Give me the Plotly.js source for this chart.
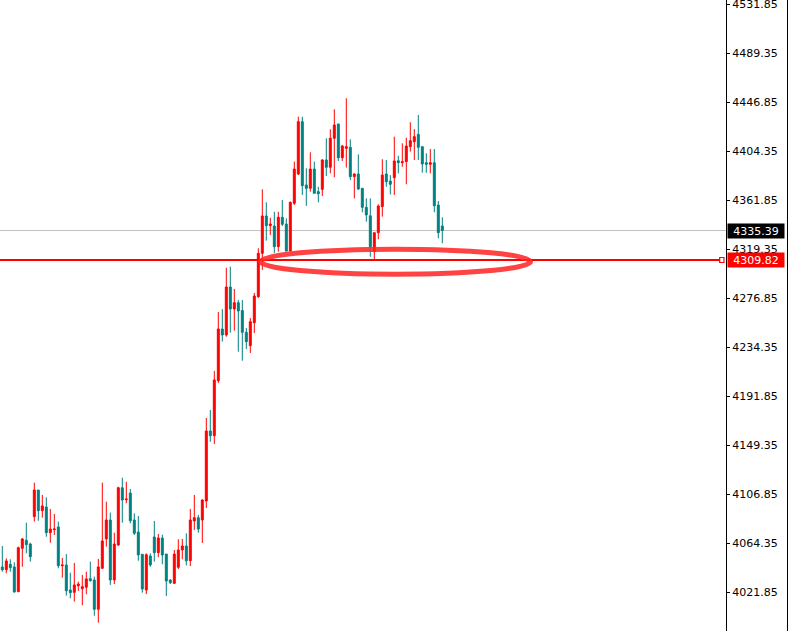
<!DOCTYPE html>
<html>
<head>
<meta charset="utf-8">
<script src="https://cdn.plot.ly/plotly-3.0.1.min.js"></script>
<style>html,body{margin:0;padding:0;background:#fff;}#chart{width:790px;height:631px;}</style>
</head>
<body>
<div id="chart"></div>
<script>
// Candle OHLC values (index = bar number)
const openP = [
4043.6,4041.2,4045.9,4043.6,4022.1,4059.8,4066.7,4063.5,4087.2,4110.3,
4092.4,4095.6,4073.3,4075.9,4078.3,4044.7,4045.3,4023.6,4021.6,4027.3,
4024.7,4026.0,4033.4,4032.3,4006.9,4042.4,4067.9,4084.3,4032.3,4062.6,
4112.3,4101.9,4107.7,4084.3,4073.9,4054.6,4023.6,4053.1,4069.6,4056.0,
4068.7,4054.8,4032.3,4029.4,4043.3,4058.3,4061.8,4049.0,4083.5,4086.3,
4084.3,4100.8,4161.5,4157.4,4205.1,4250.0,4244.8,4286.4,4267.3,4272.8,
4266.0,4247.1,4235.5,4255.4,4278.0,4315.6,4348.0,4339.6,4339.3,4321.4,
4346.9,4341.0,4317.6,4359.0,4384.4,4429.8,4374.9,4372.0,4388.7,4369.1,
4371.1,4396.6,4390.2,4415.4,4427.8,4398.5,4406.7,4407.6,4382.1,4384.4,
4372.0,4355.5,4348.2,4317.0,4333.5,4356.1,4384.4,4378.3,4381.2,4395.9,
4394.2,4395.1,4408.1,4412.4,4418.8,4408.1,4394.2,4392.8,4394.2,4357.5,
4339.3];
const highP = [
4061.8,4051.1,4050.2,4047.6,4061.2,4068.7,4082.0,4064.6,4116.7,4110.3,
4106.0,4104.0,4093.9,4089.5,4082.9,4051.4,4054.8,4038.6,4047.0,4030.8,
4036.6,4039.5,4048.2,4035.2,4050.5,4116.7,4100.2,4090.7,4073.3,4113.2,
4121.0,4117.5,4111.2,4090.1,4087.8,4054.6,4055.4,4055.4,4083.5,4072.2,
4071.6,4054.8,4032.9,4058.3,4067.6,4067.9,4072.8,4093.9,4106.0,4088.7,
4102.3,4172.8,4179.7,4213.6,4264.7,4267.3,4303.1,4304.0,4284.7,4275.1,
4275.1,4250.9,4259.5,4281.2,4320.0,4371.1,4359.9,4346.5,4351.7,4351.7,
4361.9,4346.0,4360.4,4395.1,4434.1,4434.1,4389.4,4403.2,4395.1,4373.4,
4397.2,4415.4,4423.2,4440.5,4427.8,4409.6,4450.1,4414.5,4385.0,4401.5,
4372.0,4363.3,4363.3,4333.5,4358.1,4397.2,4396.6,4383.5,4416.8,4400.3,
4411.0,4415.9,4429.3,4423.4,4435.6,4408.1,4402.4,4406.1,4406.1,4361.0,
4346.9];
const lowP = [
4039.5,4038.1,4039.5,4021.3,4022.1,4043.8,4055.4,4048.2,4082.9,4083.7,
4086.3,4069.8,4064.6,4071.3,4042.4,4034.3,4018.7,4016.4,4013.5,4022.8,
4010.4,4019.9,4030.8,4001.3,3995.3,4042.4,4061.2,4028.0,4028.8,4061.8,
4082.0,4098.8,4081.5,4071.3,4049.0,4021.3,4020.1,4043.8,4048.2,4052.0,
4045.9,4018.4,4028.8,4028.8,4041.8,4050.2,4045.0,4044.4,4075.7,4073.3,
4064.4,4094.7,4152.2,4150.2,4203.1,4239.0,4243.3,4246.8,4248.5,4230.3,
4222.5,4232.6,4229.2,4246.5,4276.9,4301.2,4326.6,4331.5,4316.0,4317.0,
4339.3,4317.0,4317.0,4357.5,4383.5,4366.2,4356.7,4369.1,4367.7,4359.9,
4365.3,4382.7,4385.0,4381.6,4395.7,4395.7,4390.0,4379.2,4363.3,4370.5,
4351.2,4343.0,4312.7,4310.7,4327.8,4347.4,4373.4,4366.8,4366.2,4385.0,
4390.7,4375.5,4403.8,4396.6,4396.6,4385.5,4385.5,4385.0,4351.2,4328.6,
4324.3];
const closeP = [
4041.2,4048.8,4043.0,4021.9,4060.3,4067.9,4062.9,4052.5,4110.3,4092.4,
4096.5,4073.3,4076.5,4076.5,4044.7,4045.3,4023.0,4021.3,4028.0,4028.8,
4026.5,4033.2,4031.7,4006.9,4043.6,4066.1,4084.3,4032.3,4063.5,4112.3,
4101.7,4102.5,4083.7,4072.8,4054.0,4024.5,4054.2,4045.3,4056.0,4068.7,
4054.0,4031.4,4030.0,4054.8,4058.3,4061.8,4049.0,4084.3,4086.3,4076.5,
4101.7,4161.5,4157.4,4205.8,4250.0,4244.8,4286.4,4267.3,4272.8,4265.6,
4247.1,4239.0,4256.3,4278.6,4315.6,4348.0,4339.6,4341.0,4321.4,4346.9,
4340.8,4317.6,4359.9,4388.7,4429.8,4374.3,4372.0,4388.7,4367.7,4367.3,
4396.6,4390.2,4415.4,4426.9,4398.5,4408.7,4408.1,4382.1,4384.4,4371.4,
4355.5,4348.9,4321.4,4333.5,4356.7,4383.5,4377.7,4375.5,4395.7,4394.2,
4395.1,4408.7,4413.3,4416.8,4407.6,4393.1,4392.8,4394.2,4356.9,4333.5,
4335.39];
const barIndex = closeP.map((_, i) => i);

// Axis tick values / labels
const yTickVals = [4021.85,4064.35,4106.85,4149.35,4191.85,4234.35,4276.85,4319.35,4361.85,4404.35,4446.85,4489.35,4531.85];
const yTickText = yTickVals.map(v => v.toFixed(2));

// Price levels
const lastPrice = 4335.39;
const levelPrice = 4309.82;

const trace = {
  type: 'candlestick',
  x: barIndex, open: openP, high: highP, low: lowP, close: closeP,
  increasing: {line: {color: '#ff0000', width: 1}, fillcolor: '#ff0000'},
  decreasing: {line: {color: '#008080', width: 1}, fillcolor: '#008080'},
  whiskerwidth: 0,
  hoverinfo: 'skip',
  showlegend: false
};

const font = {family: 'DejaVu Sans, Verdana, sans-serif', size: 11, color: '#000'};

const layout = {
  width: 790, height: 631,
  margin: {l: 0, r: 64, t: 0, b: 0, pad: 0},
  paper_bgcolor: '#ffffff', plot_bgcolor: '#ffffff',
  showlegend: false,
  xaxis: {range: [-0.575, 180.925], visible: false, rangeslider: {visible: false}, fixedrange: true},
  yaxis: {
    side: 'right', range: [3988.05, 4535.32],
    tickmode: 'array', tickvals: yTickVals, ticktext: yTickText,
    ticks: 'outside', ticklen: 3, tickcolor: '#000', tickwidth: 1,
    ticklabeloverflow: 'allow',
    showline: true, linecolor: '#000', linewidth: 1, mirror: false,
    showgrid: false, zeroline: false, tickfont: font, fixedrange: true
  },
  shapes: [
    {type: 'line', xref: 'paper', yref: 'y', x0: 0, x1: 1, y0: lastPrice, y1: lastPrice,
     line: {color: '#c0c0c0', width: 1}, layer: 'below'},
    {type: 'line', xref: 'paper', yref: 'y', x0: 0, x1: 0.9917, y0: levelPrice, y1: levelPrice,
     line: {color: '#ff0000', width: 2}},
    {type: 'rect', xref: 'paper', yref: 'y', ysizemode: 'pixel', yanchor: levelPrice,
     x0: 0.9913, x1: 0.9972, y0: -2.5, y1: 2.5,
     line: {color: '#ff0000', width: 1.2}, fillcolor: '#ffffff'},
    {type: 'circle', xref: 'x', yref: 'y', x0: 64.55, x1: 132.05, y0: 4297.5, y1: 4319.2,
     line: {color: 'rgba(255,40,40,0.88)', width: 5}, layer: 'above'},
    {type: 'line', xref: 'paper', yref: 'paper', x0: 1.0847, x1: 1.0847, y0: 0, y1: 1,
     line: {color: '#000', width: 1}}
  ],
  annotations: [
    {xref: 'paper', yref: 'y', x: 1, xshift: 1, y: lastPrice, xanchor: 'left', yanchor: 'middle',
     text: lastPrice.toFixed(2), showarrow: false, bgcolor: '#000000',
     font: {family: font.family, size: 11, color: '#ffffff'}, width: 54, height: 12, borderpad: 1, align: 'center'},
    {xref: 'paper', yref: 'y', x: 1, xshift: 1, y: levelPrice, xanchor: 'left', yanchor: 'middle',
     text: levelPrice.toFixed(2), showarrow: false, bgcolor: '#ff0000',
     font: {family: font.family, size: 11, color: '#ffffff'}, width: 54, height: 12, borderpad: 1, align: 'center'}
  ]
};

Plotly.newPlot('chart', [trace], layout, {displayModeBar: false, staticPlot: true});
</script>
</body>
</html>
